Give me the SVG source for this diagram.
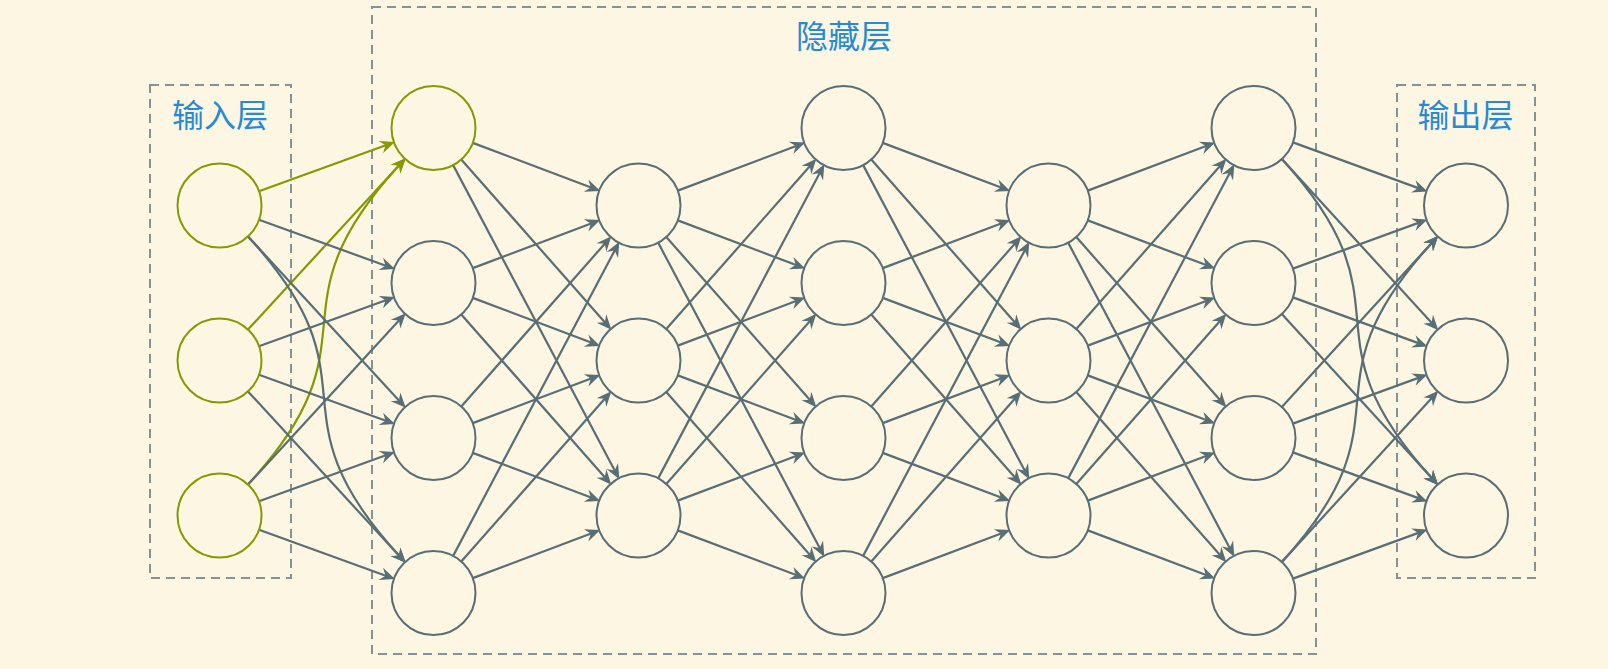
<svg xmlns="http://www.w3.org/2000/svg" width="1608" height="669" viewBox="0 0 1608 669">
<style>
.bg{fill:#fdf6e3}
.box{fill:none;stroke:#839496;stroke-width:2;stroke-dasharray:9 6}
.lbl{font-family:"Noto Sans CJK SC","Noto Sans",sans-serif;font-size:32px;fill:#268bd2;text-anchor:middle;dominant-baseline:central}
.n{fill:#fdf6e3;stroke:#586e75;stroke-width:2}
.ng{fill:#fdf6e3;stroke:#859900;stroke-width:2}
.e{fill:none;stroke:#586e75;stroke-width:2.2;marker-end:url(#ag)}
.eg{fill:none;stroke:#859900;stroke-width:2.2;marker-end:url(#agr)}
marker{overflow:visible}
</style>
<defs>
<marker id="ag" markerUnits="userSpaceOnUse" orient="auto" refX="6" refY="8" markerWidth="16" markerHeight="16"><path d="M15,8 L0,1.5 L5,8 L0,14.5 Z" fill="#586e75"/></marker>
<marker id="agr" markerUnits="userSpaceOnUse" orient="auto" refX="6" refY="8" markerWidth="16" markerHeight="16"><path d="M15,8 L0,1.5 L5,8 L0,14.5 Z" fill="#859900"/></marker>
</defs>
<rect class="bg" x="0" y="0" width="1608" height="669"/>
<g id="layer-boxes">
<g id="input-layer"><rect class="box" x="150" y="85" width="141" height="493"/><text class="lbl" x="220" y="112.5">输入层</text></g>
<g id="hidden-layer"><rect class="box" x="372" y="7" width="944" height="647"/><text class="lbl" x="844" y="34">隐藏层</text></g>
<g id="output-layer"><rect class="box" x="1397" y="85" width="138" height="493"/><text class="lbl" x="1465.5" y="113">输出层</text></g>
</g>
<g id="connectors">
<path class="eg" d="M258.99,191.20 L386.49,145.03"/>
<path class="eg" d="M247.94,329.60 L399.64,164.78"/>
<path class="eg" d="M247.94,484.60 C383.38,337.44 264.20,311.94 399.64,164.78"/>
<path class="e" d="M258.99,219.80 L386.49,265.97"/>
<path class="e" d="M247.94,236.40 L399.64,401.22"/>
<path class="e" d="M247.94,236.40 C383.38,383.56 264.20,409.06 399.64,556.22"/>
<path class="e" d="M258.99,346.20 L386.49,300.03"/>
<path class="e" d="M258.99,374.80 L386.49,420.97"/>
<path class="e" d="M247.94,391.40 L399.64,556.22"/>
<path class="e" d="M247.94,484.60 L399.64,319.78"/>
<path class="e" d="M258.99,501.20 L386.49,455.03"/>
<path class="e" d="M258.99,529.80 L386.49,575.97"/>

<path class="e" d="M472.79,142.85 L591.74,187.82"/>
<path class="e" d="M461.28,159.50 L605.43,323.00"/>
<path class="e" d="M453.14,165.12 L615.12,471.30"/>
<path class="e" d="M472.79,268.15 L591.74,223.18"/>
<path class="e" d="M472.79,297.85 L591.74,342.82"/>
<path class="e" d="M461.28,314.50 L605.43,478.00"/>
<path class="e" d="M461.28,406.50 L605.43,243.00"/>
<path class="e" d="M472.79,423.15 L591.74,378.18"/>
<path class="e" d="M472.79,452.85 L591.74,497.82"/>
<path class="e" d="M453.14,555.88 L615.12,249.70"/>
<path class="e" d="M461.28,561.50 L605.43,398.00"/>
<path class="e" d="M472.79,578.15 L591.74,533.18"/>

<path class="e" d="M677.79,190.65 L796.74,145.68"/>
<path class="e" d="M677.79,220.35 L796.74,265.32"/>
<path class="e" d="M666.28,237.00 L810.43,400.50"/>
<path class="e" d="M658.14,242.62 L820.12,548.80"/>
<path class="e" d="M666.28,329.00 L810.43,165.50"/>
<path class="e" d="M677.79,345.65 L796.74,300.68"/>
<path class="e" d="M677.79,375.35 L796.74,420.32"/>
<path class="e" d="M666.28,392.00 L810.43,555.50"/>
<path class="e" d="M658.14,478.38 L820.12,172.20"/>
<path class="e" d="M666.28,484.00 L810.43,320.50"/>
<path class="e" d="M677.79,500.65 L796.74,455.68"/>
<path class="e" d="M677.79,530.35 L796.74,575.32"/>

<path class="e" d="M882.79,142.85 L1001.74,187.82"/>
<path class="e" d="M871.28,159.50 L1015.43,323.00"/>
<path class="e" d="M863.14,165.12 L1025.12,471.30"/>
<path class="e" d="M882.79,268.15 L1001.74,223.18"/>
<path class="e" d="M882.79,297.85 L1001.74,342.82"/>
<path class="e" d="M871.28,314.50 L1015.43,478.00"/>
<path class="e" d="M871.28,406.50 L1015.43,243.00"/>
<path class="e" d="M882.79,423.15 L1001.74,378.18"/>
<path class="e" d="M882.79,452.85 L1001.74,497.82"/>
<path class="e" d="M863.14,555.88 L1025.12,249.70"/>
<path class="e" d="M871.28,561.50 L1015.43,398.00"/>
<path class="e" d="M882.79,578.15 L1001.74,533.18"/>

<path class="e" d="M1087.79,190.65 L1206.74,145.68"/>
<path class="e" d="M1087.79,220.35 L1206.74,265.32"/>
<path class="e" d="M1076.28,237.00 L1220.43,400.50"/>
<path class="e" d="M1068.14,242.62 L1230.12,548.80"/>
<path class="e" d="M1076.28,329.00 L1220.43,165.50"/>
<path class="e" d="M1087.79,345.65 L1206.74,300.68"/>
<path class="e" d="M1087.79,375.35 L1206.74,420.32"/>
<path class="e" d="M1076.28,392.00 L1220.43,555.50"/>
<path class="e" d="M1068.14,478.38 L1230.12,172.20"/>
<path class="e" d="M1076.28,484.00 L1220.43,320.50"/>
<path class="e" d="M1087.79,500.65 L1206.74,455.68"/>
<path class="e" d="M1087.79,530.35 L1206.74,575.32"/>

<path class="e" d="M1292.96,142.39 L1419.03,188.37"/>
<path class="e" d="M1281.84,159.00 L1432.26,323.60"/>
<path class="e" d="M1281.84,159.00 C1416.78,306.62 1297.32,330.98 1432.26,478.60"/>
<path class="e" d="M1292.96,268.61 L1419.03,222.63"/>
<path class="e" d="M1292.96,297.39 L1419.03,343.37"/>
<path class="e" d="M1281.84,314.00 L1432.26,478.60"/>
<path class="e" d="M1281.84,407.00 L1432.26,242.40"/>
<path class="e" d="M1292.96,423.61 L1419.03,377.63"/>
<path class="e" d="M1292.96,452.39 L1419.03,498.37"/>
<path class="e" d="M1281.84,562.00 C1416.78,414.38 1297.32,390.02 1432.26,242.40"/>
<path class="e" d="M1281.84,562.00 L1432.26,397.40"/>
<path class="e" d="M1292.96,578.61 L1419.03,532.63"/>
</g>
<g id="nodes">
<g id="in1"><circle class="ng" cx="219.5" cy="205.5" r="42"/></g>
<g id="in2"><circle class="ng" cx="219.5" cy="360.5" r="42"/></g>
<g id="in3"><circle class="ng" cx="219.5" cy="515.5" r="42"/></g>
<g id="h1n1"><circle class="ng" cx="433.5" cy="128" r="42"/></g>
<g id="h1n2"><circle class="n" cx="433.5" cy="283" r="42"/></g>
<g id="h1n3"><circle class="n" cx="433.5" cy="438" r="42"/></g>
<g id="h1n4"><circle class="n" cx="433.5" cy="593" r="42"/></g>
<g id="h2n1"><circle class="n" cx="638.5" cy="205.5" r="42"/></g>
<g id="h2n2"><circle class="n" cx="638.5" cy="360.5" r="42"/></g>
<g id="h2n3"><circle class="n" cx="638.5" cy="515.5" r="42"/></g>
<g id="h3n1"><circle class="n" cx="843.5" cy="128" r="42"/></g>
<g id="h3n2"><circle class="n" cx="843.5" cy="283" r="42"/></g>
<g id="h3n3"><circle class="n" cx="843.5" cy="438" r="42"/></g>
<g id="h3n4"><circle class="n" cx="843.5" cy="593" r="42"/></g>
<g id="h4n1"><circle class="n" cx="1048.5" cy="205.5" r="42"/></g>
<g id="h4n2"><circle class="n" cx="1048.5" cy="360.5" r="42"/></g>
<g id="h4n3"><circle class="n" cx="1048.5" cy="515.5" r="42"/></g>
<g id="h5n1"><circle class="n" cx="1253.5" cy="128" r="42"/></g>
<g id="h5n2"><circle class="n" cx="1253.5" cy="283" r="42"/></g>
<g id="h5n3"><circle class="n" cx="1253.5" cy="438" r="42"/></g>
<g id="h5n4"><circle class="n" cx="1253.5" cy="593" r="42"/></g>
<g id="out1"><circle class="n" cx="1466" cy="205.5" r="42"/></g>
<g id="out2"><circle class="n" cx="1466" cy="360.5" r="42"/></g>
<g id="out3"><circle class="n" cx="1466" cy="515.5" r="42"/></g>
</g>
</svg>
